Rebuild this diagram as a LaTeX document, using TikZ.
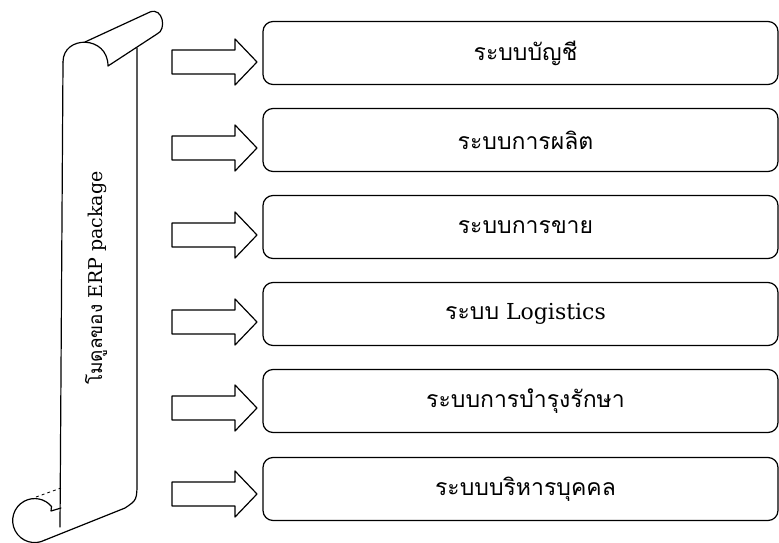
\documentclass[tikz,border=0pt]{standalone}
\usepackage{fontspec}
\newfontfamily\thaifont[Script=Thai]{Loma}
\newfontfamily\latinfont{DejaVu Serif}
\begin{document}
\begin{tikzpicture}[x=1pt,y=-1pt,
  ink/.style={line width=1.2pt, line join=round, line cap=round},
  modbox/.style={ink, draw, rounded corners=10pt, minimum width=515pt, minimum height=63pt, inner sep=0pt},
  modtext/.style={font=\fontsize{23}{28}\selectfont, inner sep=0pt},
  blockarrow/.pic={
    \draw[ink] (-85,-12) -- (-22,-12) -- (-22,-23) -- (0,0) -- (-22,23) -- (-22,12) -- (-85,12) -- cycle;
  }]
\useasboundingbox (0,0) rectangle (779,543);

% scroll: body edges
\draw[ink] (63,62) -- (60,527);
\draw[ink] (137,48) -- (137,480) .. controls (137,500) .. (125,508) -- (45,540);
% scroll: top roll
\draw[ink] (63,62) .. controls (63,35) and (108,35) .. (108,66) -- (157,34);
\draw[ink] (85,42) -- (150,12) .. controls (163,7) and (167,30) .. (157,34);
% scroll: bottom roll
\draw[ink] (45,540) arc[start angle=62, end angle=320, radius=22] -- (51,511) -- (61,508);
\draw[line width=0.8pt, dashed] (36,497) -- (61,488);

\node[rotate=90, font=\fontsize{19}{24}\selectfont, inner sep=0pt] (title) at (96,278)
  {{\thaifont โมดูลของ} {\latinfont ERP package}};

% module boxes
\node[modbox] (b1) at (520.5,53)  {};
\node[modbox] (b2) at (520.5,140) {};
\node[modbox] (b3) at (520.5,227) {};
\node[modbox] (b4) at (520.5,314) {};
\node[modbox] (b5) at (520.5,401) {};
\node[modbox] (b6) at (520.5,489) {};

\node[modtext, xshift=5pt] (t1) at (b1) {\thaifont ระบบบัญชี};
\node[modtext, xshift=5pt] (t2) at (b2) {\thaifont ระบบการผลิต};
\node[modtext, xshift=5pt] (t3) at (b3) {\thaifont ระบบการขาย};
\node[modtext, xshift=5pt] (t4) at (b4) {{\thaifont ระบบ} {\latinfont\fontsize{22}{28}\selectfont Logistics}};
\node[modtext, xshift=5pt] (t5) at (b5) {\thaifont ระบบการบำรุงรักษา};
\node[modtext, xshift=5pt] (t6) at (b6) {\thaifont ระบบบริหารบุคคล};

% arrows into the boxes
\pic at (257,62)  {blockarrow};
\pic at (257,148) {blockarrow};
\pic at (257,235) {blockarrow};
\pic at (257,322) {blockarrow};
\pic at (257,408) {blockarrow};
\pic at (257,494) {blockarrow};
\end{tikzpicture}
\end{document}
